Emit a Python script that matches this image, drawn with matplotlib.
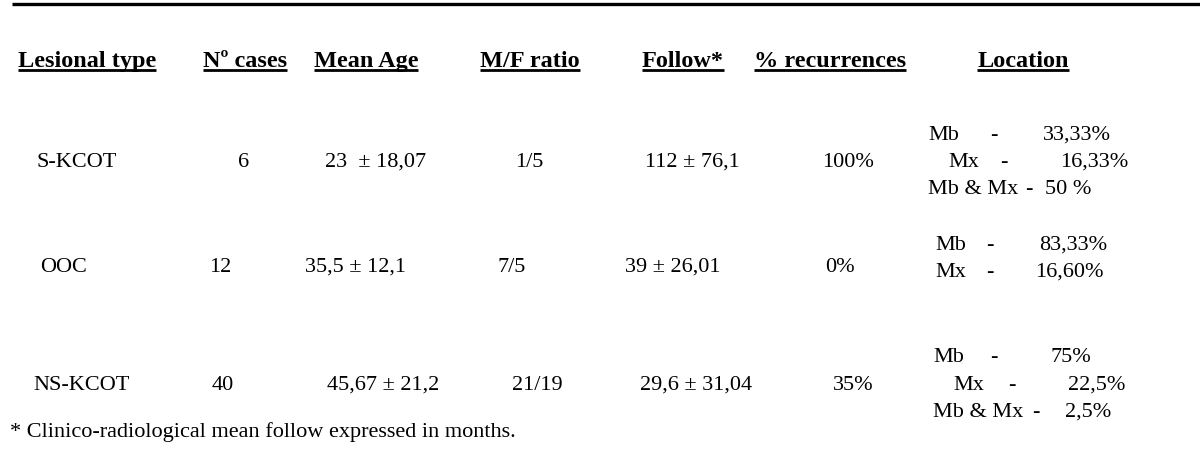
import matplotlib
matplotlib.use("Agg")
import matplotlib.pyplot as plt

# table content
headers = ["Lesional type", "Nº cases", "Mean Age", "M/F ratio", "Follow*", "% recurrences", "Location"]
lesion_types = ["S-KCOT", "OOC", "NS-KCOT"]
n_cases = ["6", "12", "40"]
mean_age = ["23  ± 18,07", "35,5 ± 12,1", "45,67 ± 21,2"]
mf_ratio = ["1/5", "7/5", "21/19"]
follow = ["112 ± 76,1", "39 ± 26,01", "29,6 ± 31,04"]
recurrences = ["100%", "0%", "35%"]
location_sites = [["Mb", "Mx", "Mb & Mx"], ["Mb", "Mx"], ["Mb", "Mx", "Mb & Mx"]]
location_pcts = [["33,33%", "16,33%", "50 %"], ["83,33%", "16,60%"], ["75%", "22,5%", "2,5%"]]
footnote = "* Clinico-radiological mean follow expressed in months."

# layout (pixel units, y downwards)
W, H = 1200, 467
FONT = "Liberation Serif"
SIZE = 16
HEAD_SIZE = 17.5
header_cx = [87, 245, 366, 530, 683, 830, 1023]
header_base = 67
row_base = [167, 272, 390]
type_x = [36, 40, 33]
cases_cx = [244, 220, 223]
age_x = [325, 305, 327]
mf_cx = [529, 512, 537]
follow_x = [645, 625, 640]
recur_x = [822, 825, 833]
loc_base = [[140, 167, 194], [250, 277], [362, 390, 417]]
loc_site_x = [[928, 948, 928], [935, 935], [933, 953, 933]]
loc_dash_x = [[990, 1000, 1025], [986, 986], [990, 1008, 1032]]
loc_pct_x = [[1043, 1060, 1045], [1039, 1035], [1050, 1068, 1065]]

fig = plt.figure(figsize=(W / 100, H / 100), dpi=100)
ax = fig.add_axes([0, 0, 1, 1])
ax.set_xlim(0, W)
ax.set_ylim(H, 0)
ax.axis("off")

ax.plot([12, W], [4, 4], color="black", lw=2.4, solid_capstyle="butt")

txt = dict(family=FONT, va="baseline", color="black")

header_texts = []
for label, cx in zip(headers, header_cx):
    t = ax.text(cx, header_base, label, ha="center", fontsize=HEAD_SIZE, fontweight="bold", **txt)
    header_texts.append(t)

for i in range(len(lesion_types)):
    y = row_base[i]
    ax.text(type_x[i], y, lesion_types[i], ha="left", fontsize=SIZE, **txt)
    ax.text(cases_cx[i], y, n_cases[i], ha="center", fontsize=SIZE, **txt)
    ax.text(age_x[i], y, mean_age[i], ha="left", fontsize=SIZE, **txt)
    ax.text(mf_cx[i], y, mf_ratio[i], ha="center", fontsize=SIZE, **txt)
    ax.text(follow_x[i], y, follow[i], ha="left", fontsize=SIZE, **txt)
    ax.text(recur_x[i], y, recurrences[i], ha="left", fontsize=SIZE, **txt)
    for j, (site, pct) in enumerate(zip(location_sites[i], location_pcts[i])):
        yy = loc_base[i][j]
        ax.text(loc_site_x[i][j], yy, site, ha="left", fontsize=SIZE, **txt)
        ax.text(loc_dash_x[i][j], yy, "-", ha="left", fontsize=SIZE, **txt)
        ax.text(loc_pct_x[i][j], yy, pct, ha="left", fontsize=SIZE, **txt)

ax.text(10, 437, footnote, ha="left", fontsize=SIZE, **txt)

# underline the headers
fig.canvas.draw()
renderer = fig.canvas.get_renderer()
inv = ax.transData.inverted()
for t in header_texts:
    bb = t.get_window_extent(renderer)
    x0, _ = inv.transform((bb.x0, bb.y0))
    x1, _ = inv.transform((bb.x1, bb.y0))
    ax.plot([x0, x1], [header_base + 3, header_base + 3], color="black", lw=2.0, solid_capstyle="butt")

fig.savefig("out.png", dpi=100)
plt.close(fig)
